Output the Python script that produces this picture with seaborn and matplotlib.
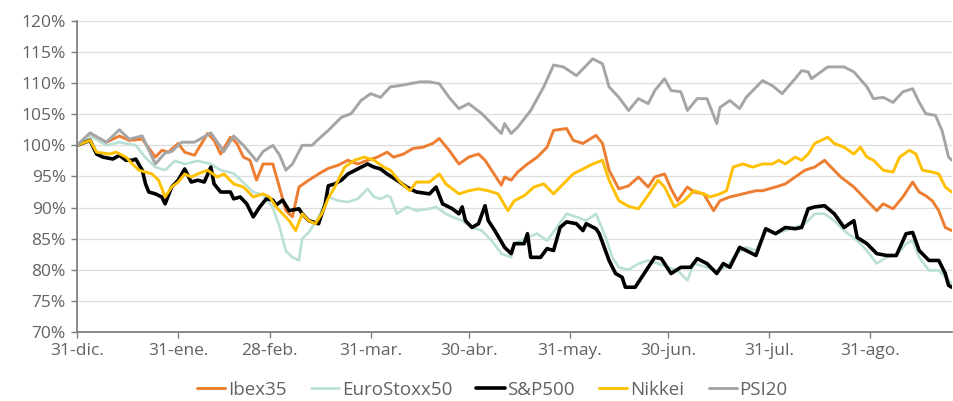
import pandas as pd
import matplotlib
matplotlib.use("Agg")
import matplotlib.pyplot as plt
import seaborn as sns

# Evolución de índices bursátiles (base 100 = 31-dic.)
fecha_inicio = pd.Timestamp("2021-12-31")

ibex_dias = [0, 4, 9, 13, 16, 20, 24, 26, 28, 31, 33, 36, 40, 42, 44, 47, 49, 51, 53, 55,
             57, 60, 62, 64, 66, 68, 71, 74, 77, 80, 83, 86, 89, 92, 95, 97, 100, 103, 106, 109,
             111, 114, 117, 120, 123, 125, 127, 130, 131, 133, 135, 138, 141, 144, 146, 150, 152, 155, 159, 161,
             163, 166, 169, 172, 175, 177, 180, 182, 184, 187, 189, 192, 195, 197, 200, 204, 208, 210, 214, 217,
             220, 223, 226, 229, 231, 234, 238, 242, 245, 247, 250, 253, 256, 258, 260, 262, 264, 266, 268]
ibex_vals = [100, 101.5, 100.5, 101.5, 100.8, 101, 98.1, 99.2, 98.9, 100.3, 98.9, 98.4, 101.9, 100.8, 98.6, 101.3, 100.3, 98.1, 97.6, 94.4,
             97.0, 97.0, 93.3, 89.5, 88.5, 93.3, 94.4, 95.4, 96.3, 96.8, 97.6, 97.0, 97.6, 98.1, 98.9, 98.1, 98.6, 99.5, 99.7, 100.3,
             101.1, 99.2, 97.0, 98.1, 98.6, 97.6, 96.0, 93.6, 94.9, 94.4, 95.7, 97.0, 98.1, 99.7, 102.4, 102.7, 100.8, 100.3, 101.6, 100.3,
             96.0, 93.0, 93.5, 94.9, 93.3, 94.9, 95.4, 93.0, 91.1, 93.3, 92.5, 92.2, 89.5, 91.1, 91.7, 92.2, 92.7, 92.7, 93.3, 93.8,
             94.9, 96.0, 96.5, 97.6, 96.5, 94.9, 93.3, 91.1, 89.5, 90.6, 89.8, 91.7, 94.1, 92.5, 91.9, 91.1, 89.5, 86.8, 86.3]

euro_dias = [0, 4, 9, 13, 18, 21, 24, 27, 30, 33, 37, 41, 44, 48, 51, 54, 57, 60, 62, 64,
             66, 68, 69, 71, 74, 77, 80, 83, 86, 89, 91, 93, 95, 96, 98, 101, 104, 108, 110, 113,
             115, 118, 121, 124, 127, 130, 133, 134, 138, 141, 144, 147, 150, 153, 156, 159, 162, 164, 166, 169,
             172, 175, 178, 181, 184, 187, 189, 193, 196, 199, 202, 205, 208, 211, 214, 217, 220, 223, 226, 229,
             232, 235, 239, 242, 245, 248, 251, 254, 256, 258, 261, 264, 267, 268]
euro_vals = [100, 101.5, 100, 100.5, 100, 98, 96.5, 96, 97.5, 97, 97.5, 97, 96, 95.5, 94, 92.5, 92, 90, 87, 83,
             82, 81.5, 85, 86, 88.5, 91.7, 91.1, 90.9, 91.4, 93.0, 91.7, 91.4, 91.9, 91.7, 89.0, 90.1, 89.5, 89.8, 90.1, 89.0,
             88.5, 87.9, 86.8, 86.3, 84.7, 82.6, 82.0, 84.2, 85.2, 85.8, 84.7, 86.8, 89.0, 88.5, 87.9, 89.0, 85.2, 82.0, 80.4, 80.0,
             81.0, 81.5, 81.0, 80.4, 79.9, 78.3, 81.0, 80.4, 79.9, 80.4, 82.6, 83.6, 83.1, 86.3, 85.8, 86.3, 86.8, 87.4, 89.0, 89.0,
             87.9, 86.3, 84.7, 83.1, 81.0, 82.0, 82.3, 84.2, 84.7, 82.0, 79.9, 79.9, 78.3, 77.7]

sp_dias = [0, 4, 6, 8, 11, 13, 15, 17, 18, 20, 21, 22, 24, 26, 27, 29, 31, 33, 35, 37,
           39, 41, 42, 44, 47, 48, 50, 52, 54, 56, 58, 60, 61, 63, 65, 68, 69, 71, 74, 76,
           77, 79, 81, 83, 86, 89, 91, 93, 95, 98, 101, 104, 108, 110, 112, 115, 117, 118, 119, 121,
           123, 125, 126, 128, 131, 133, 134, 137, 138, 139, 142, 144, 146, 148, 150, 153, 155, 156, 159, 160,
           163, 165, 167, 168, 171, 173, 175, 177, 179, 182, 185, 188, 190, 193, 196, 198, 200, 203, 205, 208,
           211, 214, 217, 220, 222, 224, 226, 229, 232, 235, 238, 239, 242, 245, 248, 251, 254, 256, 258, 261,
           264, 266, 267, 268]
sp_vals = [100, 100.8, 98.6, 98.1, 97.8, 98.4, 97.6, 97.6, 97.8, 96.0, 93.8, 92.5, 92.2, 91.7, 90.6, 93.3, 94.4, 96.2, 94.1, 94.4,
           94.1, 96.5, 93.8, 92.5, 92.5, 91.4, 91.7, 90.6, 88.5, 90.1, 91.4, 91.2, 90.4, 91.2, 89.5, 89.8, 89.0, 87.9, 87.4, 90.5,
           93.5, 93.8, 94.4, 95.4, 96.2, 97.0, 96.5, 96.2, 95.4, 94.4, 93.3, 92.5, 92.2, 93.3, 90.6, 89.8, 89.0, 90.1, 87.9, 86.8,
           87.4, 90.3, 87.9, 86.3, 83.6, 82.6, 84.2, 84.2, 85.8, 82.0, 82.0, 83.4, 83.1, 86.8, 87.7, 87.4, 86.3, 87.4, 86.6, 85.8,
           81.5, 79.4, 78.8, 77.2, 77.2, 78.8, 80.4, 82.0, 81.8, 79.4, 80.4, 80.4, 81.8, 81.0, 79.4, 81.0, 80.4, 83.6, 83.1, 82.3,
           86.6, 85.8, 86.8, 86.6, 86.8, 89.8, 90.1, 90.3, 89.0, 86.8, 87.9, 85.2, 84.2, 82.6, 82.3, 82.3, 85.8, 86.0, 83.1, 81.5,
           81.5, 79.4, 77.5, 77.2]

nikkei_dias = [0, 4, 6, 10, 12, 15, 17, 19, 23, 25, 27, 29, 31, 33, 35, 37, 40, 43, 45, 48,
               51, 54, 57, 59, 61, 63, 65, 67, 69, 71, 73, 75, 77, 79, 82, 85, 88, 91, 94, 96,
               99, 102, 104, 108, 111, 113, 117, 120, 123, 126, 129, 132, 134, 137, 140, 143, 146, 149, 152, 155,
               158, 161, 163, 166, 169, 172, 175, 178, 180, 183, 186, 189, 192, 194, 197, 199, 201, 204, 207, 210,
               213, 215, 217, 220, 222, 224, 226, 230, 232, 235, 238, 240, 242, 244, 247, 250, 252, 255, 257, 259,
               262, 264, 266, 268]
nikkei_vals = [100, 100.8, 98.9, 98.6, 98.9, 98.1, 97.0, 96.0, 95.4, 94.4, 91.7, 93.3, 94.1, 95.4, 94.9, 95.4, 96.0, 94.9, 95.4, 93.8,
               93.3, 91.7, 92.2, 91.7, 90.1, 89.0, 87.9, 86.3, 89.0, 87.9, 87.4, 89.0, 91.5, 93.3, 96.5, 97.6, 98.1, 97.6, 96.5, 96.0,
               94.1, 92.7, 94.1, 94.1, 95.4, 93.8, 92.2, 92.7, 93.0, 92.7, 92.2, 89.5, 91.1, 91.9, 93.3, 93.8, 92.2, 93.8, 95.4, 96.2,
               97.0, 97.6, 94.4, 91.1, 90.2, 89.8, 92.0, 94.4, 93.3, 90.1, 91.1, 92.7, 92.2, 91.7, 92.2, 92.7, 96.5, 97.0, 96.5, 97.0,
               97.0, 97.6, 97.0, 98.1, 97.6, 98.6, 100.3, 101.3, 100.3, 99.7, 98.6, 99.7, 98.1, 97.6, 96.0, 95.7, 98.1, 99.2, 98.6, 96.0,
               95.7, 95.4, 93.3, 92.5]

psi_dias = [0, 4, 9, 13, 16, 20, 24, 27, 29, 32, 36, 41, 45, 48, 51, 55, 57, 60, 62, 64,
            66, 69, 72, 74, 77, 81, 84, 87, 90, 93, 96, 99, 102, 105, 108, 111, 114, 117, 120, 124,
            127, 130, 131, 133, 135, 139, 143, 146, 149, 153, 158, 161, 163, 166, 169, 172, 175, 177, 180, 182,
            185, 187, 190, 193, 196, 197, 200, 203, 205, 210, 213, 216, 220, 222, 224, 225, 230, 235, 238, 242,
            244, 247, 250, 253, 256, 258, 260, 263, 265, 267, 268]
psi_vals = [100, 102, 100.5, 102.5, 101, 101.5, 97, 98.8, 99, 100.5, 100.5, 102, 99, 101.5, 100, 97.5, 99, 100, 98.5, 96,
            97, 100, 100, 101, 102.4, 104.5, 105.1, 107.2, 108.3, 107.7, 109.4, 109.6, 109.9, 110.2, 110.2, 109.9, 107.7, 105.9, 106.7, 105.1,
            103.5, 101.9, 103.5, 101.9, 102.9, 105.6, 109.4, 112.9, 112.6, 111.2, 113.9, 113.1, 109.4, 107.7, 105.6, 107.5, 106.7, 108.8, 110.7, 108.8,
            108.6, 105.6, 107.5, 107.5, 103.5, 106.1, 107.2, 105.9, 107.7, 110.4, 109.6, 108.3, 110.7, 112.0, 111.8, 110.7, 112.6, 112.6, 111.8, 109.4,
            107.5, 107.7, 106.9, 108.6, 109.1, 106.9, 105.1, 104.8, 102.4, 98.1, 97.6]

indices = ["Ibex35", "EuroStoxx50", "S&P500", "Nikkei", "PSI20"]
series_dias = [ibex_dias, euro_dias, sp_dias, nikkei_dias, psi_dias]
series_vals = [ibex_vals, euro_vals, sp_vals, nikkei_vals, psi_vals]

colores = ["#ed7d31", "#bae0d6", "#000000", "#ffc000", "#a5a5a5"]
grosores = [2.1, 1.9, 2.6, 2.1, 2.1]

ticks_fecha = ["2021-12-31", "2022-01-31", "2022-02-28", "2022-03-31", "2022-04-30",
               "2022-05-31", "2022-06-30", "2022-07-31", "2022-08-31"]
ticks_texto = ["31-dic.", "31-ene.", "28-feb.", "31-mar.", "30-abr.",
               "31-may.", "30-jun.", "31-jul.", "31-ago."]
y_ticks = [70, 75, 80, 85, 90, 95, 100, 105, 110, 115, 120]


def main():
    sns.set_theme(style="white")
    plt.rcParams["font.family"] = ["Open Sans", "DejaVu Sans"]
    gris_texto = "#626262"

    fig = plt.figure(figsize=(9.54, 4.01), dpi=100)
    ax = fig.add_axes([0.0807, 0.172, 0.917, 0.776])

    for nombre, dias, vals, color, lw in zip(indices, series_dias, series_vals, colores, grosores):
        df = pd.DataFrame({
            "fecha": fecha_inicio + pd.to_timedelta(dias, unit="D"),
            "valor": vals,
        })
        sns.lineplot(data=df, x="fecha", y="valor", color=color, linewidth=lw,
                     label=nombre, ax=ax, estimator=None, sort=False)

    ax.set_xlim(fecha_inicio, fecha_inicio + pd.Timedelta(days=268))
    ax.set_ylim(70, 120)
    ax.set_xticks(pd.to_datetime(ticks_fecha))
    ax.set_xticklabels(ticks_texto)
    ax.set_yticks(y_ticks)
    ax.set_yticklabels([f"{v}%" for v in y_ticks])
    ax.set_xlabel("")
    ax.set_ylabel("")

    ax.grid(axis="y", color="#dedede", linewidth=0.9)
    ax.set_axisbelow(True)
    for lado in ["top", "right"]:
        ax.spines[lado].set_visible(False)
    for lado in ["left", "bottom"]:
        ax.spines[lado].set_color("#7f7f7f")
        ax.spines[lado].set_linewidth(1.3)

    ax.tick_params(axis="both", colors=gris_texto, labelsize=12.5, direction="out",
                   length=4, width=1, pad=4, left=True, bottom=True)
    ax.tick_params(axis="both", color="#7f7f7f")

    handles, labels = ax.get_legend_handles_labels()
    ax.get_legend().remove()
    fig.legend(handles, labels, loc="center", bbox_to_anchor=(0.516, 0.028), ncol=5,
               frameon=False, fontsize=13.5, labelcolor=gris_texto, handlelength=1.5,
               handletextpad=0.15, columnspacing=1.3, borderaxespad=0)

    fig.savefig("out.png", dpi=100)
    plt.close(fig)


if __name__ == "__main__":
    main()
